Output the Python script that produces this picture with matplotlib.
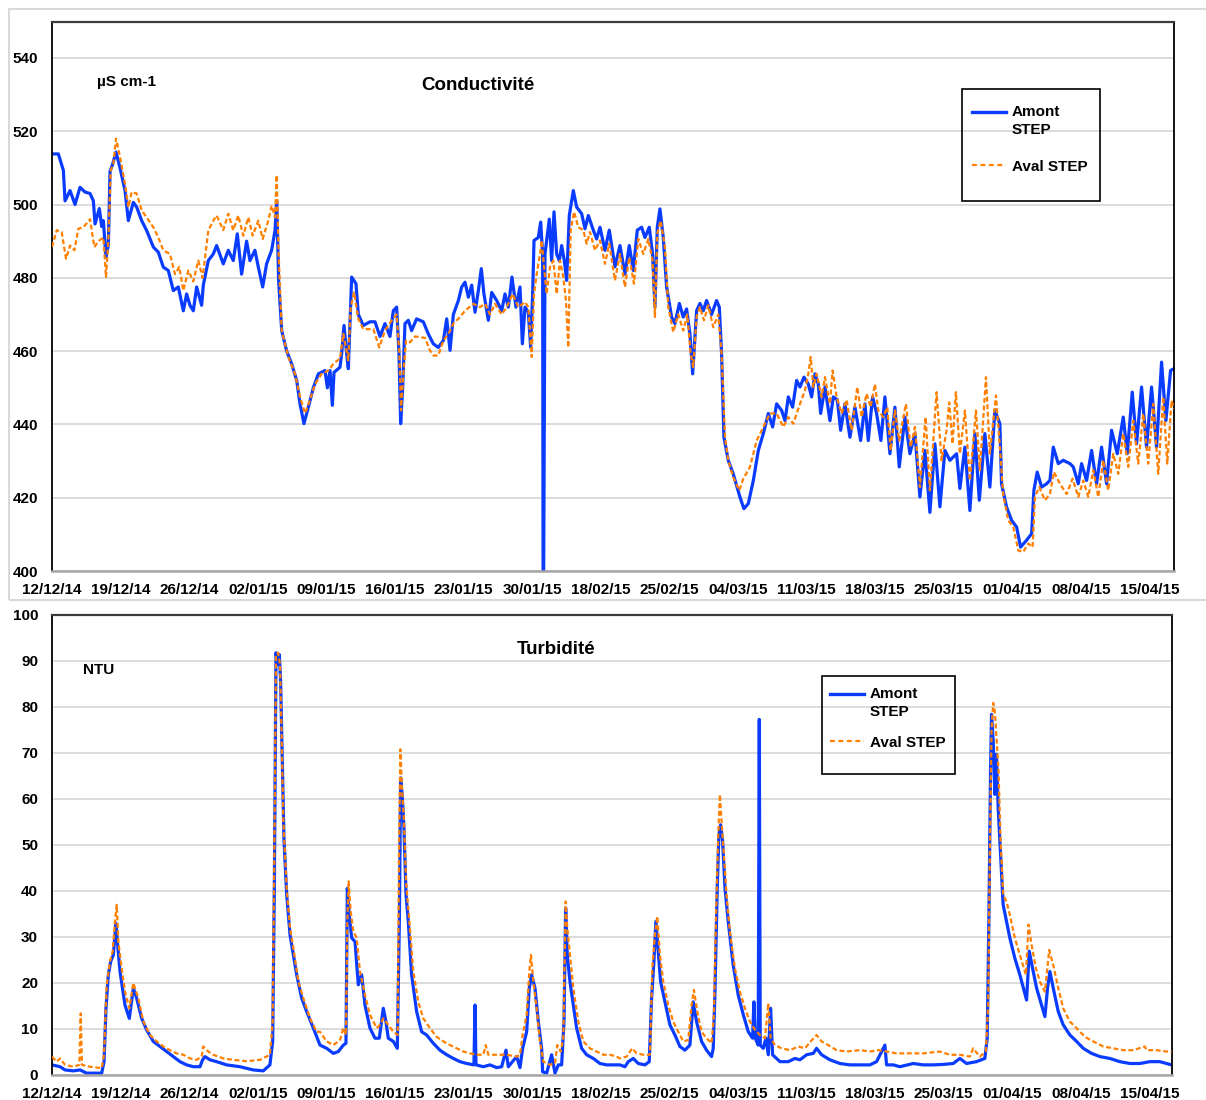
import matplotlib
matplotlib.use("Agg")
import numpy as np
import matplotlib.pyplot as plt
from matplotlib.patches import Rectangle
from matplotlib.lines import Line2D
from matplotlib.legend_handler import HandlerLine2D

plt.rcParams['font.family'] = ['Liberation Sans', 'DejaVu Sans']
plt.rcParams['font.weight'] = 'bold'

# axe des temps "compressé" (jours depuis le 12/12/14, un libellé par semaine)
date_labels = ['12/12/14', '19/12/14', '26/12/14', '02/01/15', '09/01/15', '16/01/15',
               '23/01/15', '30/01/15', '18/02/15', '25/02/15', '04/03/15', '11/03/15',
               '18/03/15', '25/03/15', '01/04/15', '08/04/15', '15/04/15']
date_ticks = [7 * i for i in range(len(date_labels))]

# ---- Conductivité (µS cm-1) ----
cond_amont_j = [0.0, 0.65, 1.16, 1.33, 1.84, 2.35, 2.86, 3.37, 3.88, 4.22,
                4.39, 4.83, 5.07, 5.24, 5.51, 5.75, 5.92, 6.19, 6.53, 6.94,
                7.45, 7.79, 8.30, 8.64, 9.15, 9.66, 10.34, 10.85, 11.36, 11.87,
                12.38, 12.89, 13.40, 13.74, 14.08, 14.42, 14.76, 15.27, 15.44, 15.95,
                16.46, 16.80, 17.48, 17.99, 18.50, 18.91, 19.35, 19.86, 20.20, 20.71,
                21.05, 21.50, 21.90, 22.41, 22.76, 22.93, 23.13, 23.44, 23.95, 24.46,
                24.97, 25.31, 25.71, 26.16, 26.67, 27.18, 27.86, 28.10, 28.37, 28.61,
                28.78, 29.39,
                29.56, 29.80, 30.07, 30.24, 30.58, 31.02, 31.26, 31.77, 32.45, 32.96,
                33.47, 33.98, 34.49, 34.83, 35.17, 35.41, 35.58, 35.79, 36.02, 36.36,
                36.70, 37.21, 37.89, 38.40, 38.91, 39.42, 39.94, 40.28, 40.62, 40.96,
                41.47, 41.81, 42.15, 42.49, 42.83, 43.17, 43.51, 43.81, 44.08, 44.53,
                44.87, 45.38, 45.89, 46.23, 46.57, 46.94, 47.35, 47.76, 48.00, 48.27,
                48.61, 48.85, 49.05, 49.19, 49.63, 49.87, 50.07, 50.12, 50.16, 50.31,
                50.75, 50.99, 51.23, 51.50, 51.77, 52.01, 52.28, 52.52, 52.79, 53.20,
                53.54, 54.05, 54.39, 54.73, 55.24, 55.58, 55.92,
                56.43, 56.87, 57.45, 57.96, 58.47, 58.91, 59.32, 59.73, 60.17, 60.51,
                60.95, 61.29, 61.53, 61.77, 62.04, 62.38, 62.72, 63.23, 63.57, 64.02,
                64.42, 64.76, 65.10, 65.38, 65.78, 66.12, 66.46, 66.80, 67.31, 67.82,
                68.10, 68.33, 68.57, 69.01, 69.52, 70.20, 70.61, 71.06, 71.57, 72.08,
                72.59, 73.10, 73.54, 73.95, 74.46, 74.80, 75.14, 75.58, 75.99, 76.33,
                76.74, 77.18, 77.52, 77.86, 78.20, 78.44, 78.88, 79.39, 79.73, 80.14,
                80.48, 80.92, 81.43, 81.94, 82.52, 82.96, 83.30, 83.74, 84.15, 84.59,
                85.00, 85.51, 86.02, 86.46,
                87.04, 87.55, 88.06, 88.57, 89.08, 89.59, 90.10, 90.61, 91.12, 91.63,
                92.31, 92.65, 93.16, 93.67, 94.18, 94.63, 95.20, 95.71, 96.22, 96.73,
                96.90, 97.41, 97.93, 98.44, 98.84, 99.46, 99.97, 100.20, 100.54, 100.99,
                101.50, 101.84, 102.18, 102.69, 103.20, 103.88, 104.22, 104.73, 105.07, 105.58,
                106.09, 106.60, 107.11, 107.62, 108.13, 108.71, 109.32, 109.73, 110.24, 110.68,
                111.19, 111.70, 112.21, 112.72, 113.23, 113.67, 114.15, 114.49]
cond_amont = [513.8, 513.8, 509.3, 501, 503.8, 500, 504.7, 503.4, 503, 501,
              494.7, 498.9, 494, 495.6, 485.6, 489, 509, 511, 514.3, 510,
              503.8, 495.6, 500.6, 499.3, 495.6, 492.9, 488.4, 487, 482.9, 482,
              476.5, 477.5, 471, 475.6, 472.5, 471, 477.5, 472.5, 478, 484.7,
              486.5, 488.8, 483.8, 487.5, 484.7, 492, 481, 490, 484.7, 487.5,
              483, 477.5, 483.8, 487.5, 492.9, 501, 479, 465.6, 460, 456.5,
              452, 445.6, 440.2, 444.7, 450, 453.8, 454.7, 450, 454.7, 445.2,
              454.2, 455.6,
              459.3, 467, 459.3, 455.2, 480.2, 478.4, 470, 467, 468, 468,
              464, 467.5, 464, 471, 472, 459.3, 440.2, 450.2, 467.5, 468.4,
              465.6, 468.8, 468, 464.7, 462, 461, 462.9, 468.8, 460.2, 470,
              473.8, 477.5, 478.8, 474.7, 478, 470.6, 476.5, 482.5, 475.6, 468.4,
              476, 473.8, 471, 475.6, 472, 480.2, 472, 477.5, 462, 472,
              470.6, 461, 475.6, 490.2, 491, 495.2, 486.5, 390, 390, 486.5,
              496, 484.7, 498, 486.5, 484.7, 488.8, 484.7, 479.3, 497, 503.8,
              499.3, 497.5, 493.4, 497, 493, 490.6, 493.8,
              487.5, 493, 483, 488.8, 481, 488.8, 482, 493, 493.8, 491,
              493.8, 486.5, 472, 493.8, 498.8, 491, 477.5, 469.3, 467.5, 473,
              469.3, 471.5, 464.7, 453.8, 471, 473, 471, 473.8, 470, 473.8,
              472, 459.3, 436.5, 430.2, 426.5, 420.2, 417, 418.4, 424.7, 432.9,
              437.5, 443, 439.3, 445.6, 443.8, 441, 447.5, 444.7, 452, 450.2,
              452.9, 451, 447.5, 453.8, 451, 443, 450.2, 441, 447.5, 446.7,
              438.4, 445.6, 436.5, 444.7, 435.6, 445.6, 435.6, 447.5, 443, 435.6,
              447.5, 432, 444.7, 428.4,
              442, 432, 437.5, 420.2, 432.9, 416, 434.7, 417.5, 432.9, 430.2,
              432, 422.5, 433.8, 416.5, 437.5, 419.3, 437.5, 422.9, 443.8, 440.2,
              423.8, 417.5, 413.8, 412, 406.5, 408.4, 410.2, 422, 427, 422.9,
              423.8, 424.7, 433.8, 429.3, 430.2, 429.3, 428.4, 423.8, 429.3, 424.7,
              432.9, 423.8, 433.8, 423.8, 438.4, 432, 442, 432, 448.8, 434.7,
              450.2, 433.8, 450.2, 433.8, 457, 441, 454.7, 455.2]

cond_aval_j = [0.0, 0.48, 0.99, 1.43, 1.84, 2.28, 2.69, 3.20, 3.88, 4.32,
               4.83, 5.24, 5.51, 5.75, 5.99, 6.26, 6.53, 6.94, 7.45, 7.79,
               8.13, 8.64, 9.15, 9.66, 10.34, 10.85, 11.36, 12.04, 12.55, 12.99,
               13.40, 13.91, 14.42, 14.93, 15.37, 15.95, 16.46, 16.80, 17.48, 17.99,
               18.50, 19.01, 19.52, 20.03, 20.48, 21.05, 21.50, 22.07, 22.41, 22.76,
               22.93, 23.13, 23.44, 24.12, 24.80, 25.31, 25.82, 26.33, 26.84, 27.52,
               28.20, 28.71, 29.39,
               29.73, 30.24, 30.48, 30.82, 31.26, 31.77, 32.79, 33.40, 33.98, 34.66,
               35.17, 35.45, 35.62, 35.85, 36.13, 36.53, 37.04, 38.06, 38.57, 38.91,
               39.42, 39.94, 40.45, 40.96, 41.64, 42.15, 43.00, 43.68, 44.19, 44.70,
               45.21, 45.89, 46.40, 47.01, 47.59, 48.27, 48.61, 48.95, 49.19, 49.46,
               49.80, 49.97, 50.21, 50.48, 50.82, 51.16, 51.50, 51.84, 52.18, 52.45,
               52.69, 52.93, 53.27, 53.71, 54.22, 54.56, 54.90, 55.41, 55.92,
               56.43, 56.87, 57.45, 57.96, 58.47, 58.91, 59.39, 59.83, 60.34, 60.85,
               61.29, 61.53, 61.77, 62.11, 62.55, 62.89, 63.40, 63.91, 64.42, 64.83,
               65.17, 65.44, 65.78, 66.12, 66.53, 66.97, 67.48, 67.99, 68.33, 68.68,
               69.01, 69.52, 70.14, 70.55, 71.23, 71.91, 72.59, 73.27, 73.95, 74.63,
               75.14, 75.65, 76.33, 76.84, 77.18, 77.42, 77.69, 78.03, 78.54, 78.88,
               79.39, 79.66, 80.07, 80.58, 81.09, 81.60, 82.18, 82.62, 83.13, 83.54,
               83.98, 84.32, 84.83, 85.24, 85.58, 86.02, 86.46,
               87.14, 87.62, 88.06, 88.57, 89.15, 89.59, 90.27, 90.78, 91.29, 91.56,
               91.90, 92.24, 92.65, 93.16, 93.67, 94.29, 94.69, 95.31, 95.71, 96.33,
               96.73, 97.07, 97.58, 98.10, 98.61, 99.12, 99.63, 100.07, 100.31, 100.75,
               101.33, 101.84, 102.25, 102.86, 103.54, 104.15, 104.73, 105.24, 105.75, 106.26,
               106.77, 107.28, 107.79, 108.30, 108.81, 109.32, 109.83, 110.34, 110.85, 111.36,
               111.87, 112.38, 112.89, 113.40, 113.81, 114.25, 114.49]
cond_aval = [488.4, 493, 492.5, 485.2, 488.8, 487.5, 493.4, 493.8, 496, 488.4,
             490.2, 491, 480.2, 490, 509.3, 511, 518, 513, 505.6, 499.3,
             503.4, 503, 498.4, 496.5, 493.8, 491, 487.5, 486.5, 481, 483,
             476.5, 482, 479, 484.7, 480, 492.9, 495.6, 497, 493, 497.5,
             493, 497, 491.5, 496.5, 491.5, 495.6, 490.6, 495.6, 499.7, 496.5,
             508, 486.5, 465.6, 458.4, 453.8, 447.5, 443, 446.7, 451, 453.8,
             454.7, 456.5, 458,
             464.7, 457.5, 472, 476, 468.8, 466, 466, 461, 465.6, 468.4,
             470, 459.3, 443.8, 453.8, 462.9, 462.4, 464, 463.6, 460.2, 458.8,
             458.8, 462.9, 464.7, 467.5, 469.3, 471, 472.9, 472, 472.9, 470,
             472.9, 470, 472, 475.6, 472, 473.4, 472, 458.4, 475.6, 481,
             486.5, 490.2, 483, 475.6, 483, 484.7, 475.6, 484.7, 480.2, 473.8,
             461, 492.9, 498, 493.8, 493, 489.3, 492.5, 487.5, 490.2,
             483.8, 489.3, 479.3, 486.5, 477.5, 485.6, 478.4, 490.6, 486.5, 490.6,
             484.7, 469.3, 492, 495.6, 488.4, 472, 465.2, 470, 465.6, 470,
             459.3, 455.6, 469.3, 472, 468.4, 472.5, 466.5, 470, 459.3, 436.5,
             430.2, 425.6, 422, 425.2, 428.4, 435.6, 439.3, 443, 443, 439.3,
             442, 440.2, 445.6, 449.3, 453.8, 458.4, 450.2, 453.8, 447.5, 452.9,
             445.6, 454.7, 447.5, 443, 446.7, 438.4, 450.2, 442, 448.4, 444.7,
             451, 443.8, 442, 444.7, 432.9, 443.8, 435.6,
             445.6, 433.8, 439.3, 422.9, 442, 422, 448.8, 430.2, 438.4, 446,
             434.7, 448.8, 432, 443.8, 424.7, 443.8, 427.5, 452.9, 432, 447.9,
             433.8, 421, 413.8, 412, 405.6, 405.2, 407.5, 406.5, 420.2, 422.9,
             419.3, 421, 427, 423.8, 421, 425.2, 420.2, 424.7, 420.2, 427.5,
             420.2, 430.2, 422, 432, 426.5, 437.5, 428.4, 441, 429.3, 442.9,
             429.3, 445.6, 426.5, 447.5, 429.3, 446.5, 444.3]

# ---- Turbidité (NTU) ----
turb_amont_j = [0.0, 0.82, 1.33, 2.18, 2.86, 3.54, 4.22, 5.07, 5.31, 5.51,
                5.75, 5.99, 6.26, 6.53, 6.67, 6.94, 7.45, 7.89, 8.30, 8.64,
                9.15, 9.66, 10.34, 11.02, 11.70, 12.38, 13.06, 13.74, 14.42, 15.10,
                15.37, 15.61, 16.12, 16.80, 17.82, 19.18, 20.54, 21.56, 22.24, 22.52,
                22.69, 22.86, 23.03, 23.20, 23.33, 23.50, 23.67, 23.95, 24.29, 24.63,
                24.97, 25.48, 25.99, 26.67,
                27.35, 28.03, 28.71, 29.22, 29.73, 30.00, 30.14, 30.34, 30.58, 30.92,
                31.26, 31.60, 31.94, 32.45, 32.96, 33.40, 33.81, 34.08, 34.32, 34.83,
                35.24, 35.45, 35.58, 35.75, 35.92, 36.13, 36.36, 36.70, 37.21, 37.72,
                38.23, 38.91, 39.59, 40.28, 40.96, 41.64, 42.32, 43.06, 43.17, 43.27,
                44.02, 44.70, 45.38, 45.89, 46.33, 46.57, 47.42, 47.76, 48.03, 48.44,
                48.71, 48.95, 49.29, 49.63, 49.97, 50.07, 50.48, 50.99, 51.33, 51.67,
                52.01, 52.25, 52.42, 52.59, 52.86, 53.20, 53.54, 54.05, 54.56, 55.24,
                55.92, 56.60, 57.28,
                57.96, 58.47, 58.81, 59.32, 59.83, 60.51, 60.95, 61.19, 61.43, 61.63,
                61.87, 62.11, 62.55, 63.06, 63.57, 64.08, 64.59, 65.10, 65.44, 65.78,
                66.29, 66.80, 67.31, 67.48, 67.65, 67.89, 68.06, 68.23, 68.44, 68.68,
                69.01, 69.52, 70.03, 70.55, 71.06, 71.50, 71.63, 71.77, 72.07, 72.18,
                72.28, 72.59, 72.86, 73.10, 73.34, 73.54, 74.29, 75.14, 75.82, 76.33,
                77.01, 77.69, 78.03, 78.54, 79.39, 80.41, 81.43, 82.45, 83.47, 84.15,
                85.00, 85.17, 85.85, 86.53,
                87.89, 88.91, 89.93, 90.95, 91.97, 92.65, 93.33, 94.35, 95.20, 95.44,
                95.61, 95.78, 95.88, 96.05, 96.22, 96.39, 96.56, 96.80, 97.07, 97.41,
                97.75, 98.26, 98.77, 99.46, 99.73, 100.07, 100.48, 100.99, 101.33, 101.60,
                101.84, 102.18, 102.69, 103.20, 103.88, 104.56, 105.24, 106.09, 106.94, 107.96,
                108.98, 110.00, 111.02, 112.04, 113.06, 113.74, 114.25]
turb_amont = [2.2, 1.8, 1.1, 0.9, 1.1, 0.4, 0.4, 0.4, 2.9, 14.5,
              21.8, 24.7, 26.1, 33.0, 29, 22.5, 15.2, 12.3, 18.9, 16.7,
              12.3, 9.8, 7.3, 6.2, 5.1, 4.0, 2.9, 2.2, 1.8, 1.8,
              3.3, 4.0, 3.3, 2.9, 2.2, 1.8, 1.1, 0.9, 2.2, 7.3,
              40.6, 91.8, 89.3, 91.4, 85.6, 68.2, 51.5, 39.2, 30.5, 26.1,
              21.8, 16.7, 13.8, 10.2,
              6.5, 5.8, 4.7, 5.1, 6.5, 6.9, 40.6, 34.8, 29.8, 29,
              19.6, 21.8, 15.2, 10.2, 8.0, 8.0, 14.5, 11.6, 8.0, 7.3,
              5.8, 33.4, 64.6, 60.4, 53.7, 39.2, 33.4, 21.8, 13.8, 9.4,
              8.7, 6.9, 5.4, 4.4, 3.6, 2.9, 2.5, 2.2, 15.2, 2.2,
              1.8, 2.2, 1.6, 1.8, 5.4, 1.8, 4.0, 1.6, 5.8, 9.4,
              18.9, 21.8, 18.9, 11.6, 5.8, 0.7, 0.4, 4.4, 0.4, 2.2,
              2.2, 11.6, 36.3, 26.1, 20.3, 15.2, 10.2, 5.8, 4.4, 3.6,
              2.5, 2.2, 2.2,
              2.2, 1.8, 2.9, 3.6, 2.5, 2.2, 2.9, 16.7, 24.7, 33.4,
              26.9, 20.3, 15.9, 10.9, 8.7, 6.2, 5.4, 6.5, 15.9, 11.6,
              7.3, 5.4, 4.0, 5.8, 17.4, 40.6, 52.2, 54.4, 50.8, 40.6,
              33.4, 23.9, 17.4, 13.1, 9.4, 8.0, 15.9, 8.0, 6.5, 77.3,
              6.5, 5.8, 8.0, 4.4, 14.5, 4.4, 2.9, 2.9, 3.6, 3.3,
              4.4, 4.7, 5.8, 4.4, 3.3, 2.5, 2.2, 2.2, 2.2, 2.9,
              6.5, 2.2, 2.2, 1.8,
              2.5, 2.2, 2.2, 2.3, 2.5, 3.6, 2.5, 2.9, 3.6, 8.0,
              33.4, 66, 78.4, 72.6, 61, 69.7, 58, 47.9, 37, 33.4,
              29.8, 25.4, 21.8, 16.3, 26.9, 23.2, 18.9, 15.2, 12.7, 18.9,
              22.5, 18.9, 13.8, 10.9, 8.7, 7.3, 5.8, 4.7, 4.0, 3.6,
              2.9, 2.5, 2.5, 2.9, 2.9, 2.5, 2.2]

turb_aval_j = [0.0, 0.48, 0.82, 1.33, 2.18, 2.79, 2.93, 3.06, 3.88, 5.07,
               5.31, 5.58, 5.92, 6.19, 6.43, 6.60, 6.77, 7.11, 7.45, 7.89,
               8.30, 8.81, 9.32, 10.00, 10.68, 11.36, 12.04, 12.72, 13.40, 14.08,
               14.76, 15.27, 15.44, 15.95, 16.46, 17.48, 18.50, 19.86, 21.22, 22.24,
               22.52, 22.69, 22.86, 23.07, 23.27, 23.44, 23.61, 23.95, 24.29, 24.63,
               25.14, 25.65, 26.33, 27.01,
               27.35, 28.03, 28.71, 29.39, 29.73, 30.00, 30.14, 30.27, 30.48, 30.75,
               31.09, 31.43, 31.94, 32.45, 33.13, 33.47, 33.81, 34.32, 34.83, 35.28,
               35.41, 35.55, 35.72, 35.92, 36.13, 36.47, 36.87, 37.38, 37.89, 38.57,
               39.25, 39.94, 40.62, 41.30, 41.98, 42.66, 43.34, 44.02, 44.26, 44.53,
               45.38, 46.40, 47.42, 47.76, 48.03, 48.44, 48.71, 48.88, 49.12, 49.46,
               49.80, 50.14, 50.82, 51.33, 51.57, 51.91, 52.18, 52.42, 52.59, 52.86,
               53.20, 53.71, 54.22, 54.90, 55.58, 56.26, 56.94, 57.62,
               57.96, 58.64, 59.22, 59.66, 60.34, 61.02, 61.26, 61.53, 61.77, 62.04,
               62.38, 62.89, 63.40, 63.91, 64.42, 64.93, 65.27, 65.51, 65.85, 66.29,
               66.80, 67.31, 67.55, 67.75, 67.99, 68.16, 68.33, 68.57, 68.84, 69.18,
               69.69, 70.20, 70.72, 71.23, 71.74, 72.25, 72.76, 73.10, 73.34, 73.78,
               74.46, 75.31, 76.16, 76.84, 77.42, 78.03, 78.54, 79.22, 80.07, 81.09,
               82.45, 83.47, 84.32, 85.17, 86.19,
               87.89, 88.91, 90.61, 91.63, 92.65, 93.67, 94.01, 94.69, 95.30, 95.54,
               95.71, 95.88, 96.05, 96.22, 96.39, 96.60, 96.80, 97.07, 97.41, 97.75,
               98.26, 98.77, 99.39, 99.66, 99.97, 100.41, 100.82, 101.33, 101.77, 102.18,
               102.69, 103.20, 103.88, 104.56, 105.41, 106.26, 107.28, 108.30, 109.32, 110.34,
               111.53, 111.70, 112.72, 113.74, 114.25]
turb_aval = [4.0, 2.9, 3.6, 2.2, 1.8, 2.2, 13.4, 2.2, 1.8, 1.5,
             4.4, 19.6, 24.7, 26.9, 33.4, 37, 29, 23.2, 18.1, 14.5,
             20.0, 16.7, 11.6, 8.7, 7.3, 6.2, 5.4, 4.7, 4.4, 3.6,
             3.3, 4.0, 6.2, 5.1, 4.4, 3.6, 3.3, 3.0, 3.3, 4.4,
             11.6, 47.9, 91.4, 91.8, 89.3, 73.3, 55.2, 40.6, 31.9, 27.6,
             20.3, 16.7, 12.3, 9.4,
             9.4, 7.3, 6.5, 7.6, 10.2, 8.7, 33.4, 42.1, 35.6, 31.2,
             29.8, 22.5, 17.4, 13.1, 10.2, 10.9, 12.3, 10.9, 9.4, 8.7,
             47.9, 70.8, 62.4, 55.2, 42.1, 33.4, 22.5, 15.9, 12.3, 10.2,
             8.3, 7.3, 6.5, 5.8, 5.1, 4.7, 4.4, 4.4, 6.5, 4.4,
             4.4, 4.4, 4.0, 4.4, 8.7, 13.1, 22.5, 26.1, 20.3, 14.5,
             7.3, 2.9, 2.2, 2.5, 6.5, 5.1, 8.0, 37.7, 31.9, 26.1,
             18.9, 11.6, 7.3, 5.8, 5.1, 4.4, 4.4, 4.0,
             3.6, 4.0, 5.8, 4.7, 4.4, 4.4, 23.2, 30.5, 34.5, 26.1,
             20.3, 15.2, 11.6, 9.4, 7.3, 7.6, 15.2, 18.5, 13.8, 9.4,
             8.0, 6.9, 13.1, 33.4, 52.2, 61, 55.2, 47.9, 39.2, 31.2,
             23.2, 18.1, 14.5, 11.6, 9.8, 8.7, 8.0, 15.6, 8.0, 6.5,
             5.8, 5.4, 6.2, 5.8, 7.3, 8.7, 7.3, 6.5, 5.4, 5.1,
             5.4, 5.1, 5.4, 5.1, 4.7,
             4.7, 4.7, 5.1, 4.4, 4.4, 4.0, 5.8, 4.0, 5.1, 15.2,
             47.9, 74.7, 80.9, 79.1, 73.3, 66, 51.5, 39.2, 37.7, 34.8,
             29.8, 26.1, 21.8, 32.7, 28.3, 23.2, 20.3, 18.1, 27.2, 23.9,
             18.9, 14.5, 11.6, 10.2, 8.3, 7.3, 6.2, 5.8, 5.4, 5.4,
             6.2, 5.4, 5.4, 5.1, 5.1]

BLUE = '#0A3CFF'
ORANGE = '#FF8000'
W, H = 1206, 1100

fig = plt.figure(figsize=(W / 100, H / 100), dpi=100)
fig.patch.set_facecolor('white')
# cadre gris clair du graphique du haut
fig.patches.append(Rectangle((9 / W, 1 - 600 / H), 1.0, 591 / H, transform=fig.transFigure,
                             fill=False, edgecolor='#d9d9d9', lw=1.5))

ax1 = fig.add_axes([52 / W, 1 - 571 / H, 1122 / W, 549 / H])
ax2 = fig.add_axes([52 / W, 1 - 1075 / H, 1120 / W, 460 / H])


class RaisedLine(HandlerLine2D):
    """Legend handle lifted to the first line of a two-line label."""
    def __init__(self, shift, **kw):
        super().__init__(**kw)
        self.shift = shift

    def create_artists(self, legend, orig_handle, xdescent, ydescent, width, height,
                       fontsize, trans):
        arts = super().create_artists(legend, orig_handle, xdescent, ydescent, width,
                                      height, fontsize, trans)
        for a in arts:
            a.set_ydata(np.asarray(a.get_ydata()) + self.shift * fontsize)
        return arts


def style_axes(ax, yticks, ylim, xmax):
    ax.set_xlim(0, xmax)
    ax.set_ylim(*ylim)
    ax.set_yticks(yticks)
    ax.set_xticks(date_ticks)
    ax.set_xticklabels(date_labels)
    ax.tick_params(axis='both', length=0, labelsize=11)
    ax.tick_params(axis='y', pad=10)
    ax.tick_params(axis='x', pad=9)
    for lab in ax.get_xticklabels() + ax.get_yticklabels():
        lab.set_fontweight('bold')
    ax.grid(axis='y', color='#d9d9d9', lw=1.3)
    ax.set_axisbelow(True)
    ax.spines['top'].set_color('#3c3c3c')
    ax.spines['top'].set_linewidth(1.6)
    ax.spines['right'].set_color('black')
    ax.spines['right'].set_linewidth(1.3)
    ax.spines['left'].set_color('black')
    ax.spines['left'].set_linewidth(1.3)
    ax.spines['bottom'].set_color('#a6a6a6')
    ax.spines['bottom'].set_linewidth(1.8)


def draw_legend(ax, anchor, box, spacing):
    h_amont = Line2D([], [], color=BLUE, lw=2.4)
    h_aval = Line2D([], [], color=ORANGE, lw=1.6, linestyle=(0, (2.2, 1.6)))
    leg = ax.legend([h_amont, h_aval], ['Amont\nSTEP', 'Aval STEP'], loc='upper left',
                    bbox_to_anchor=anchor, frameon=False, borderpad=0, borderaxespad=0,
                    handlelength=2.2, handletextpad=0.4, labelspacing=spacing,
                    prop={'weight': 'bold', 'size': 11},
                    handler_map={h_amont: RaisedLine(0.62)})
    for t in leg.get_texts():
        t.set_linespacing(1.35)
    ax.add_patch(Rectangle(box[:2], box[2], box[3], transform=ax.transAxes, fill=False,
                           edgecolor='black', lw=1.2, zorder=5, clip_on=False))


# Conductivité
ax1.plot(cond_amont_j, cond_amont, color=BLUE, lw=2.3, zorder=2)
ax1.plot(cond_aval_j, cond_aval, color=ORANGE, lw=1.6, linestyle=(0, (2.2, 1.2)), zorder=3)
style_axes(ax1, range(400, 541, 20), (400, 549.8), 114.5)
ax1.text(0.3797, 0.885, 'Conductivité', transform=ax1.transAxes, ha='center', va='center',
         fontsize=13.5, fontweight='bold')
ax1.text(0.0401, 0.8907, 'µS cm-1', transform=ax1.transAxes, ha='left', va='center',
         fontsize=11, fontweight='bold')
draw_legend(ax1, (0.820, 0.849), (0.811, 0.674, 0.123, 0.204), 1.5)

# Turbidité
ax2.plot(turb_amont_j, turb_amont, color=BLUE, lw=2.3, zorder=2)
ax2.plot(turb_aval_j, turb_aval, color=ORANGE, lw=1.6, linestyle=(0, (2.2, 1.2)), zorder=3)
style_axes(ax2, range(0, 101, 10), (0, 100), 114.3)
ax2.text(0.45, 0.924, 'Turbidité', transform=ax2.transAxes, ha='center', va='center',
         fontsize=13.5, fontweight='bold')
ax2.text(0.0277, 0.880, 'NTU', transform=ax2.transAxes, ha='left', va='center',
         fontsize=11, fontweight='bold')
draw_legend(ax2, (0.6946, 0.8435), (0.6875, 0.654, 0.119, 0.213), 1.1)

fig.savefig('out.png', dpi=100, facecolor='white')
